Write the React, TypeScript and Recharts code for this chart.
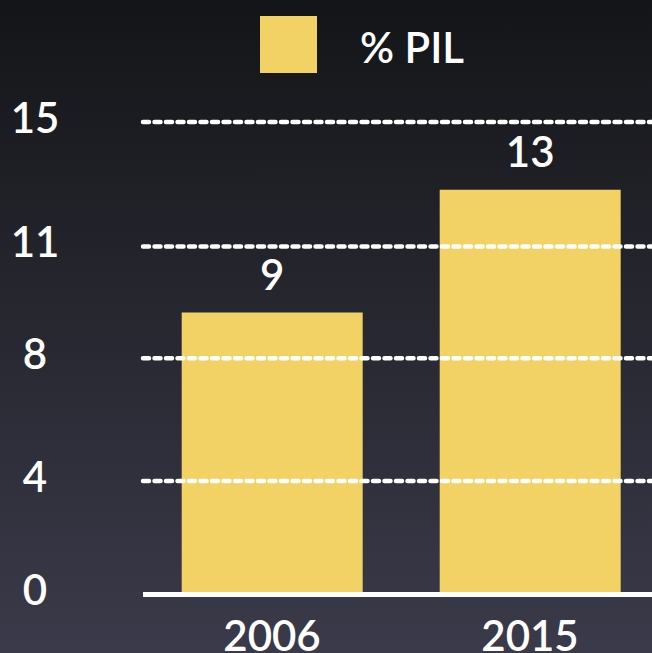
import { BarChart, Bar, XAxis, YAxis, ReferenceLine, Legend, LabelList } from "recharts"

const years = ["2006", "2015"]
const pil = [8.95, 12.85]
const yTicks = [0, 3.6, 7.5, 11.05, 15]
const seriesName = "% PIL"

const data = years.map((year, i) => ({ year, pil: pil[i] }))

const FONT = "Lato, 'Open Sans', sans-serif"
const BAR = "#F2D264"

function YTick(props: any) {
  const { y, payload } = props
  return (
    <text x={35} y={y + 10.5} textAnchor="middle" fill="#fff" fontSize={42} fontWeight={600} fontFamily={FONT}>
      {Math.round(payload.value)}
    </text>
  )
}

function XTick(props: any) {
  const { x, y, payload } = props
  return (
    <text x={x} y={y + 54} textAnchor="middle" fill="#fff" fontSize={42} fontWeight={600} fontFamily={FONT}>
      {payload.value}
    </text>
  )
}

function BarLabel(props: any) {
  const { x, y, width, value } = props
  return (
    <text x={x + width / 2} y={y - 23} textAnchor="middle" fill="#fff" fontSize={42} fontWeight={600} fontFamily={FONT}>
      {Math.round(value)}
    </text>
  )
}

function LegendBox() {
  return (
    <div style={{ display: "flex", alignItems: "center", gap: 43 }}>
      <div style={{ width: 57, height: 57, background: BAR }} />
      <span style={{ color: "#fff", fontSize: 42, fontWeight: 600, fontFamily: FONT, lineHeight: "57px", paddingTop: 6 }}>
        {seriesName}
      </span>
    </div>
  )
}

export default function App() {
  return (
    <div
      style={{
        position: "fixed", left: 0, top: 0, width: 652, height: 653, overflow: "hidden",
        background: "linear-gradient(#141518, #3b3a4a)",
      }}
    >
      <BarChart width={660} height={653} data={data} margin={{ top: 122, right: 1, left: 0, bottom: 0 }} barCategoryGap="15%">
        <Legend
          layout="horizontal"
          verticalAlign="middle"
          align="center"
          wrapperStyle={{ top: 13, left: 260, width: "auto" }}
          content={() => <LegendBox />}
        />
        <XAxis
          dataKey="year"
          height={58.5}
          tickLine={false}
          tickSize={0}
          axisLine={{ stroke: "#fff", strokeWidth: 5 }}
          tick={<XTick />}
        />
        <YAxis width={143} domain={[0, 15]} ticks={yTicks} axisLine={false} tickLine={false} tick={<YTick />} />
        <Bar dataKey="pil" name={seriesName} fill={BAR} isAnimationActive={false}>
          <LabelList dataKey="pil" content={<BarLabel />} />
        </Bar>
        {yTicks.slice(1).map((t) => (
          <ReferenceLine
            key={t}
            y={t}
            stroke="#fff"
            strokeWidth={4.5}
            strokeDasharray="6 5.5"
            strokeLinecap="round"
            zIndex={600}
          />
        ))}
      </BarChart>
    </div>
  )
}
